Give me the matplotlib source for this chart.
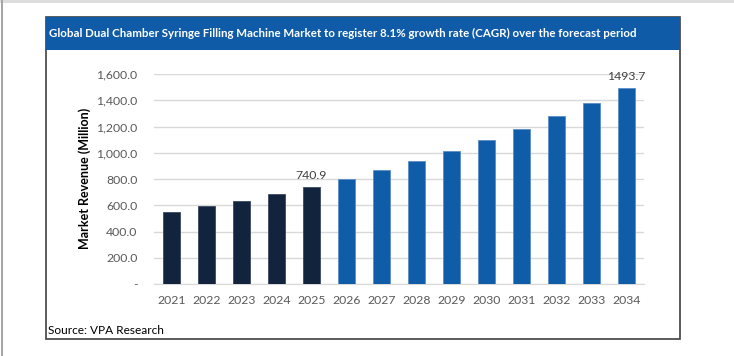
import matplotlib
matplotlib.use("Agg")
import matplotlib.pyplot as plt
from matplotlib.patches import Rectangle

years = ["2021", "2022", "2023", "2024", "2025", "2026", "2027", "2028",
         "2029", "2030", "2031", "2032", "2033", "2034"]
revenue = [551, 596, 635, 686, 740.9, 801, 866, 936, 1012, 1094, 1182, 1278, 1382, 1493.7]
historical_count = 5
labeled = {4: "740.9", 13: "1493.7"}
yticks = [0, 200, 400, 600, 800, 1000, 1200, 1400, 1600]
ytick_labels = ["-", "200.0", "400.0", "600.0", "800.0", "1,000.0", "1,200.0", "1,400.0", "1,600.0"]
title = "Global Dual Chamber Syringe Filling Machine Market to register 8.1% growth rate (CAGR) over the forecast period"
source = "Source: VPA Research"
ylabel = "Market Revenue (Million)"

W, H = 734, 356
fig = plt.figure(figsize=(W / 100, H / 100), dpi=100)
fig.patch.set_facecolor("white")

def fx(x):
    return x / W

def fy(y):
    return 1 - y / H

# outer page edges
fig.patches.append(Rectangle((0, fy(3)), 1, 3 / H, transform=fig.transFigure,
                             facecolor="#dddddd", edgecolor="none", zorder=0))
fig.patches.append(Rectangle((fx(1.5), 0), 1.2 / W, 1, transform=fig.transFigure,
                             facecolor="#a6a6a6", edgecolor="none", zorder=0))

# chart box
fig.patches.append(Rectangle((fx(45.5), fy(339)), (680 - 45.5) / W, (339 - 16.5) / H,
                             transform=fig.transFigure, facecolor="white",
                             edgecolor="#404040", lw=1.2, zorder=1))
# title band
fig.patches.append(Rectangle((fx(46), fy(50)), (680 - 46) / W, (50 - 17) / H,
                             transform=fig.transFigure, facecolor="#0F5BA7",
                             edgecolor="none", zorder=2))
t = fig.text(fx(49), fy(33.5), title, color="white", fontsize=9.6, fontweight="bold",
             family="Lato", ha="left", va="center", zorder=3)
renderer = fig.canvas.get_renderer()
w = t.get_window_extent(renderer).width
t.set_fontsize(9.6 * 591 / w)

fig.text(fx(48), fy(330.5), source, color="black", fontsize=8.6,
         family="Lato", ha="left", va="center", zorder=3)

ax = fig.add_axes([fx(154), fy(284), (644 - 154) / W, (284 - 74) / H])
ax.set_zorder(4)
ax.patch.set_alpha(0)
colors = ["#12233D" if i < historical_count else "#0F5CA8" for i in range(len(years))]
edges = ["#3b4a63" if i < historical_count else "#5b8fc6" for i in range(len(years))]
x = list(range(len(years)))
ax.bar(x, revenue, width=0.48, color=colors, edgecolor=edges, linewidth=0.6, zorder=3)
for i, txt in labeled.items():
    ax.annotate(txt, (i, revenue[i]), xytext=(0, 4), textcoords="offset points",
                ha="center", va="bottom", fontsize=8.8, color="#404040",
                family="Lato", annotation_clip=False)

ax.set_xlim(-0.5, len(years) - 0.5)
ax.set_ylim(0, 1600)
ax.set_yticks(yticks)
ax.set_yticklabels(ytick_labels)
ax.set_xticks(x)
ax.set_xticklabels(years)
ax.grid(axis="y", color="#d9d9d9", lw=1, zorder=0)
for s in ax.spines.values():
    s.set_visible(False)
ax.spines["bottom"].set_visible(True)
ax.spines["bottom"].set_color("#d9d9d9")
ax.tick_params(axis="both", length=0, labelsize=8.8, labelcolor="#595959")
ax.tick_params(axis="y", pad=12)
ax.tick_params(axis="x", pad=8)
for lab in ax.get_xticklabels() + ax.get_yticklabels():
    lab.set_family("Lato")

fig.text(fx(85), fy(178), ylabel, rotation=90, fontsize=9, fontweight="bold",
         family="Lato", ha="center", va="center", color="black", zorder=5)

fig.savefig("out.png", dpi=100, facecolor="white")
